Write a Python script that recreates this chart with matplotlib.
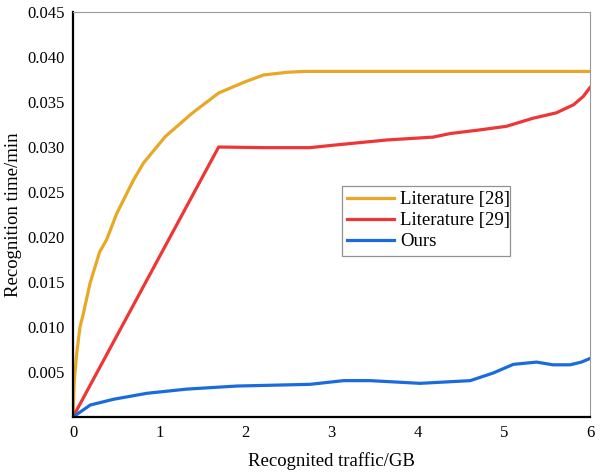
import numpy as np
import matplotlib
matplotlib.use("Agg")
import matplotlib.pyplot as plt

plt.rcParams["font.family"] = ["Liberation Serif", "DejaVu Serif"]

# Values
x_lit28 = [0, 0.015, 0.043, 0.081, 0.12, 0.197, 0.31, 0.39, 0.507, 0.70, 0.816,
           1.07, 1.38, 1.69, 2.0, 2.21, 2.48, 2.67, 3.5, 4.5, 5.5, 6.0]
y_lit28 = [0, 0.0041, 0.0071, 0.0100, 0.0115, 0.01485, 0.01837, 0.0197, 0.0226,
           0.0263, 0.0282, 0.03115, 0.03374, 0.0360, 0.03726, 0.0380, 0.0383,
           0.0384, 0.0384, 0.0384, 0.0384, 0.0384]

x_lit29 = [0, 1.69, 2.21, 2.75, 3.02, 3.64, 4.18, 4.38, 4.72, 5.03, 5.34, 5.61,
           5.81, 5.92, 6.0]
y_lit29 = [0, 0.0300, 0.02993, 0.02993, 0.0302, 0.03078, 0.0311, 0.0315, 0.0319,
           0.0323, 0.0332, 0.0338, 0.0347, 0.0356, 0.0366]

x_ours = [0, 0.2, 0.47, 0.855, 1.32, 1.9, 2.75, 3.14, 3.45, 4.03, 4.61, 4.88,
          5.11, 5.38, 5.57, 5.77, 5.9, 6.0]
y_ours = [0, 0.00133, 0.00197, 0.00263, 0.0031, 0.00344, 0.00363, 0.00404,
          0.00404, 0.00374, 0.00404, 0.0049, 0.00585, 0.0061, 0.0058, 0.0058,
          0.0061, 0.0065]

x_ticks = [0, 1, 2, 3, 4, 5, 6]
y_ticks = [0.005, 0.010, 0.015, 0.020, 0.025, 0.030, 0.035, 0.040, 0.045]

fig = plt.figure(figsize=(6, 4.75), dpi=100)
ax = fig.add_axes([0.1217, 0.1221, 0.8616, 0.8526])

ax.plot(x_lit28, y_lit28, color="#E8A826", lw=2.3, label="Literature [28]")
ax.plot(x_lit29, y_lit29, color="#EE3636", lw=2.3, label="Literature [29]")
ax.plot(x_ours, y_ours, color="#1A6CDE", lw=2.3, label="Ours")

ax.set_xlim(0, 6)
ax.set_ylim(0, 0.045)
ax.set_xticks(x_ticks)
ax.set_yticks(y_ticks)
ax.set_yticklabels([f"{v:.3f}" for v in y_ticks])
ax.tick_params(length=0, labelsize=12, pad=6)

for side in ["left", "bottom"]:
    ax.spines[side].set_linewidth(1.6)
    ax.spines[side].set_color("black")
for side in ["top", "right"]:
    ax.spines[side].set_linewidth(0.8)
    ax.spines[side].set_color("#999999")

ax.set_xlabel("Recognited traffic/GB", fontsize=13.5, labelpad=8)
ax.set_ylabel("Recognition time/min", fontsize=13.5, labelpad=4)

leg = ax.legend(loc="lower left", bbox_to_anchor=(0.52, 0.398, 0.325, 0.185),
                mode="expand", fontsize=13.5, frameon=True, fancybox=False,
                handlelength=2.5, handletextpad=0.3, borderaxespad=0,
                borderpad=0.3, labelspacing=0.2)
leg.get_frame().set_edgecolor("#777777")
leg.get_frame().set_linewidth(0.9)

fig.savefig("out.png", dpi=100)
